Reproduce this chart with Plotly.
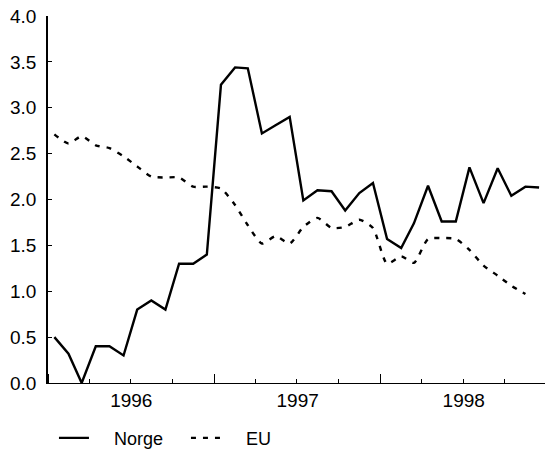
import plotly.graph_objects as go
import pandas as pd

# Monthly observations, Jan 1996 - Dec 1998 (plotted mid-month)
months = pd.date_range("1996-01-01", periods=36, freq="MS") + pd.Timedelta(days=14)

norge = [0.50, 0.32, 0.00, 0.40, 0.40, 0.30, 0.80, 0.90, 0.80, 1.30, 1.30, 1.40,
         3.25, 3.44, 3.43, 2.72, 2.81, 2.90, 1.99, 2.10, 2.09, 1.88, 2.07, 2.18,
         1.57, 1.47, 1.74, 2.15, 1.76, 1.76, 2.35, 1.96, 2.34, 2.04, 2.14, 2.13]

eu = [2.71, 2.61, 2.69, 2.59, 2.56, 2.47, 2.36, 2.25, 2.24, 2.24, 2.14, 2.14,
      2.12, 1.94, 1.72, 1.52, 1.60, 1.52, 1.70, 1.80, 1.69, 1.70, 1.78, 1.69,
      1.30, 1.38, 1.31, 1.57, 1.58, 1.57, 1.45, 1.28, 1.17, 1.06, 0.97]

y_ticks = [0.0, 0.5, 1.0, 1.5, 2.0, 2.5, 3.0, 3.5, 4.0]
y_labels = [f"{v:.1f}" for v in y_ticks]

FONT = "Liberation Sans, Arial, Helvetica, sans-serif"
PAD = "\u00a0" * 4

fig = go.Figure()
fig.add_trace(go.Scatter(
    x=months, y=norge, name=PAD + "Norge", mode="lines",
    line=dict(color="black", width=2.4),
))
fig.add_trace(go.Scatter(
    x=months[:len(eu)], y=eu, name=PAD + "EU", mode="lines",
    line=dict(color="black", width=2.4, dash="5px,7px", shape="spline", smoothing=0.6),
))

fig.update_layout(
    width=547, height=456,
    margin=dict(l=48, r=2, t=16, b=73, autoexpand=False),
    paper_bgcolor="white", plot_bgcolor="white",
    font=dict(family=FONT, size=18, color="black"),
    showlegend=True,
    legend=dict(
        orientation="h", x=0.012, y=-0.1, xanchor="left", yanchor="top",
        font=dict(family=FONT, size=18, color="black"),
        itemwidth=30, entrywidth=87, tracegroupgap=0,
    ),
    xaxis=dict(
        type="date",
        range=["1996-01-01", "1998-12-28"],
        tick0="1996-01-01", dtick="M12",
        tickformat="%Y", ticklabelmode="period",
        ticks="inside", ticklen=9, tickwidth=1.3, tickcolor="black",
        minor=dict(dtick="M3", ticks="inside", ticklen=4, tickwidth=1.1, tickcolor="black"),
        showline=True, linecolor="black", linewidth=1.3,
        showgrid=False, zeroline=False,
        tickfont=dict(family=FONT, size=19, color="black"),
    ),
    yaxis=dict(
        range=[0, 4.0],
        tickvals=y_ticks, ticktext=y_labels,
        ticks="inside", ticklen=4, tickwidth=1.1, tickcolor="black",
        ticklabelstandoff=6,
        showline=True, linecolor="black", linewidth=1.5,
        showgrid=False, zeroline=False,
        tickfont=dict(family=FONT, size=19, color="black"),
    ),
)

fig.write_html("out.html")
